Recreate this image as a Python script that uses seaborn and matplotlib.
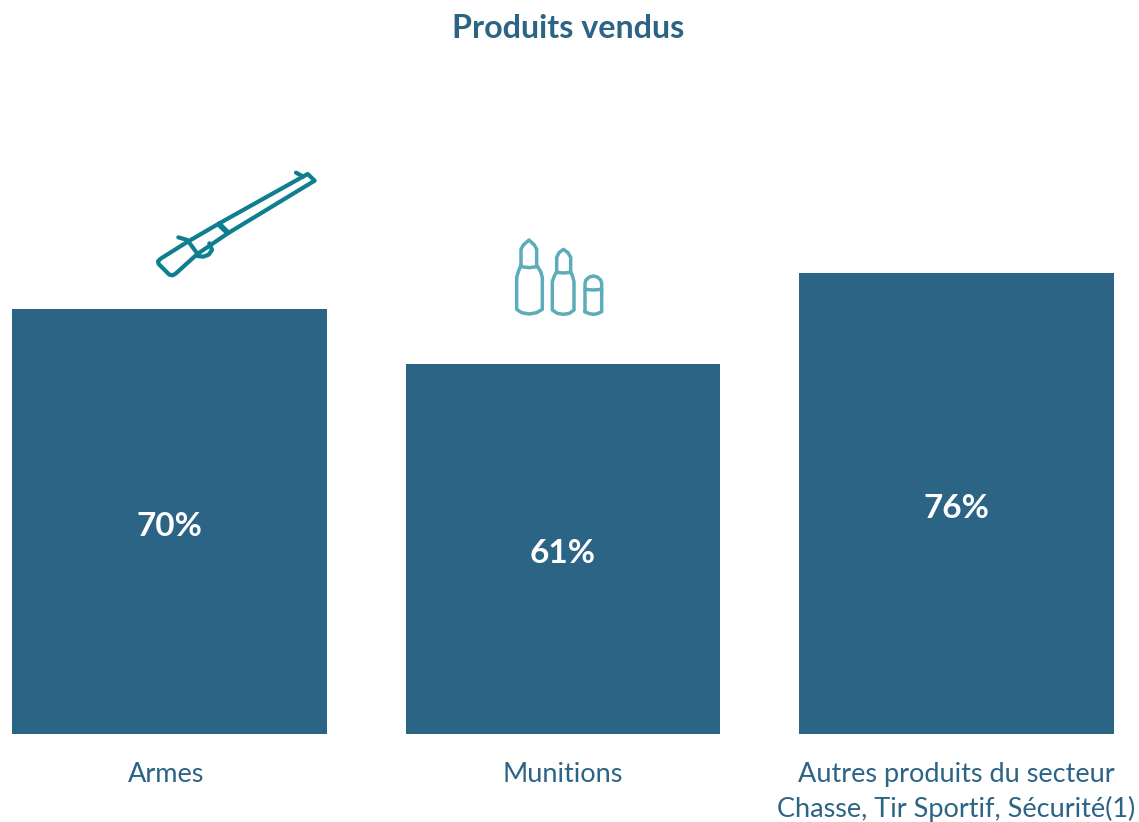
import matplotlib
matplotlib.use("Agg")
import matplotlib.pyplot as plt
import pandas as pd
import seaborn as sns
from matplotlib.lines import Line2D
from matplotlib.transforms import Affine2D

categories = ["Armes", "Munitions", "Autres produits du secteur\nChasse, Tir Sportif, Sécurité(1)"]
values = [70, 61, 76]
value_labels = ["70%", "61%", "76%"]
title = "Produits vendus"

BLUE = "#2C6485"
W, H = 1139, 822

sns.set_theme(style="white")
plt.rcParams["font.family"] = ["Lato", "DejaVu Sans"]

fig = plt.figure(figsize=(W / 100, H / 100), dpi=100, facecolor="white")
ax = fig.add_axes([0, (H - 734) / H, 1, 734 / H])
df = pd.DataFrame({"cat": categories, "val": values})
sns.barplot(data=df, x="cat", y="val", color=BLUE, saturation=1, width=0.8, linewidth=0, ax=ax)
ax.set_xlim((0 - 169.5) / 393.5, (W - 169.5) / 393.5)
ax.set_ylim(0, 734 / 6.07)
ax.set_xlabel("")
ax.set_ylabel("")
ax.set_yticks([])
ax.set_xticks([-0.009, 1, 2], categories)
ax.tick_params(axis="x", length=0, pad=20, labelsize=19.5, labelcolor=BLUE)
for tick_label in ax.get_xticklabels():
    tick_label.set_linespacing(1.45)
sns.despine(ax=ax, left=True, bottom=True, top=True, right=True)
ax.patch.set_alpha(0)

value_texts = ax.bar_label(ax.containers[0], labels=value_labels, label_type="center",
                           color="white", fontsize=24, fontweight="bold")
for t in value_texts:
    t.xyann = (0, -3.6)

fig.text(568 / W, 1 - 29 / H, title, ha="center", va="center",
         color=BLUE, fontsize=23.2, fontweight="bold")

# decorative icons, drawn in image pixels (y downwards)
px = Affine2D().scale(1, -1).translate(0, H)


def stroke(points, color, lw):
    xs, ys = zip(*points)
    fig.add_artist(Line2D(xs, ys, transform=px, color=color, lw=lw,
                          solid_capstyle="round", solid_joinstyle="round"))


def gun(points):
    return [(140 + x / 3, 160 + y / 3) for x, y in points]


def ammo(points):
    return [(500 + x / 3, 230 + y / 3) for x, y in points]


GUN = "#0E7F8E"
AMMO = "#5CADB9"
gun_paths = [
    [(468, 38), (490, 50)],
    [(238, 190), (503, 42), (524, 62), (265, 219), (238, 190)],
    [(265, 219), (172, 282), (108, 340), (98, 346), (88, 344), (56, 312), (54, 304), (62, 296),
     (140, 247), (238, 190)],
    [(115, 232), (142, 240), (175, 285)],
    [(172, 288), (190, 290), (206, 284), (216, 270), (208, 250)],
]
for p in gun_paths:
    stroke(gun(p), GUN, 3.0)
stroke(gun([(240, 196), (262, 217)]), GUN, 4.0)

ammo_paths = [
    [(63, 105), (63, 58), (70, 45), (87, 30), (103, 45), (110, 58), (110, 105), (122, 125), (127, 142),
     (127, 238), (110, 248), (87, 252), (65, 248), (50, 238), (50, 142), (55, 125), (63, 105)],
    [(63, 110), (87, 113), (110, 110)],
    [(170, 125), (170, 82), (177, 68), (190, 58), (204, 68), (212, 82), (212, 125), (218, 140), (222, 155),
     (222, 240), (208, 250), (190, 253), (172, 250), (157, 240), (157, 155), (162, 140), (170, 125)],
    [(170, 127), (190, 129), (212, 127)],
    [(255, 245), (255, 160), (258, 150), (268, 141), (280, 138), (292, 141), (302, 150), (305, 160), (305, 245),
     (292, 251), (280, 253), (268, 251), (255, 245)],
    [(255, 178), (280, 180), (305, 178)],
]
for p in ammo_paths:
    stroke(ammo(p), AMMO, 2.5)

fig.savefig("out.png", dpi=100, facecolor="white")
